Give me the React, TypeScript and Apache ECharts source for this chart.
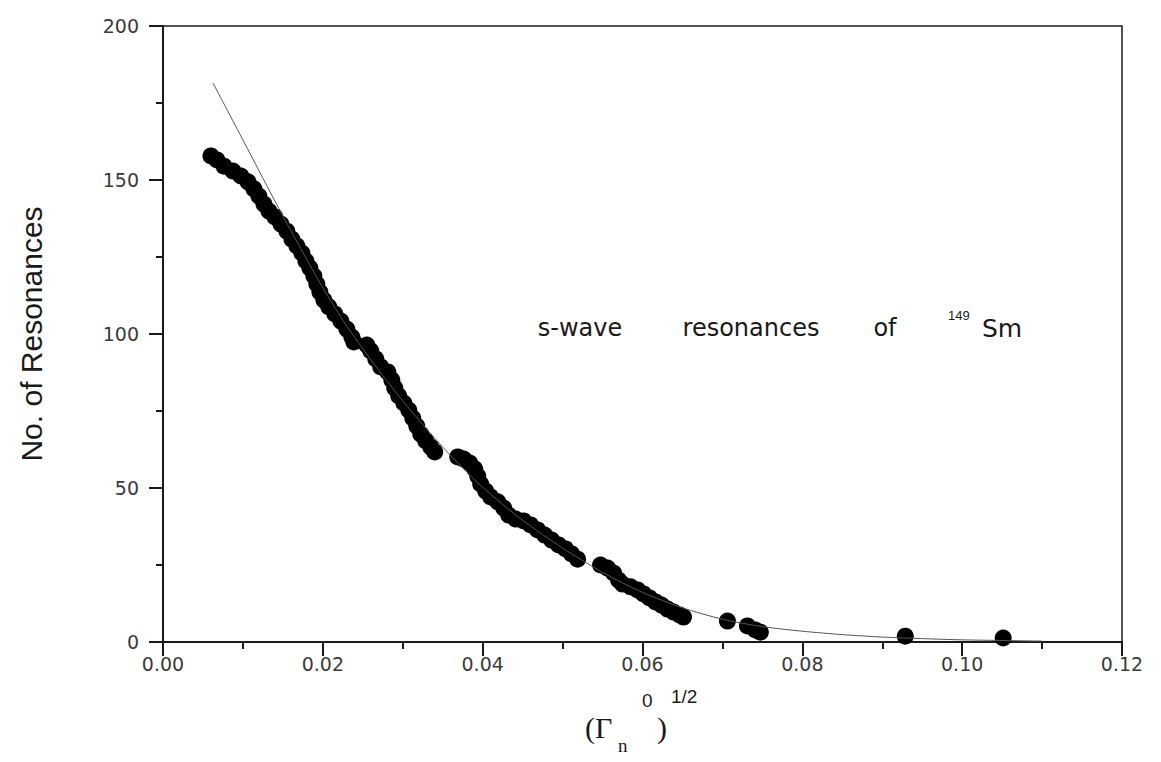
import React, { useEffect, useRef } from "react";
import * as echarts from "echarts";

// Measured resonances: (Γn0)^1/2 values and cumulative counts
const resX = [
  0.006, 0.00675, 0.00763, 0.00875, 0.00975, 0.01063, 0.01138, 0.012, 0.01263, 0.01325,
  0.014, 0.01475, 0.0155, 0.01613, 0.01675, 0.01738, 0.01788, 0.01838, 0.01888, 0.01925,
  0.01963, 0.02013, 0.02075, 0.0215, 0.02225, 0.023, 0.02363, 0.02388,
  0.0255, 0.026, 0.02663, 0.02725, 0.02813, 0.02863, 0.029, 0.0295, 0.03013, 0.03075,
  0.03125, 0.03175, 0.03225, 0.03288, 0.0335, 0.034,
  0.03688, 0.03763, 0.03838, 0.039, 0.03938, 0.03975, 0.04038, 0.041, 0.04188, 0.04263,
  0.04325, 0.04413, 0.04513, 0.046, 0.04688, 0.04775, 0.04863, 0.0495, 0.05038, 0.05113,
  0.05188,
  0.05475, 0.05563, 0.05638, 0.057, 0.0575, 0.0585, 0.05938, 0.06013, 0.06088, 0.06163,
  0.06238, 0.06313, 0.06388, 0.06463, 0.06513,
  0.07063, 0.07313, 0.07413, 0.07475, 0.09288, 0.10513,
];
const resY = [
  157.8, 156.5, 154.5, 152.9, 151.3, 149.4, 147.1, 144.8, 142.2, 139.9,
  138.0, 135.7, 133.4, 130.8, 128.6, 126.3, 123.7, 121.4, 118.8, 116.2,
  113.6, 111.0, 108.8, 106.5, 104.2, 101.6, 99.0, 97.4,
  96.4, 94.5, 91.9, 89.3, 87.7, 85.1, 82.5, 79.9, 77.6, 75.3,
  72.7, 70.1, 67.5, 65.3, 63.3, 61.7,
  60.1, 59.4, 58.1, 56.2, 53.9, 51.3, 49.0, 47.1, 45.5, 43.5,
  41.2, 39.9, 39.3, 38.0, 36.4, 34.7, 33.1, 31.5, 30.2, 28.6,
  26.9,
  25.0, 24.0, 22.4, 20.1, 18.8, 17.9, 16.9, 15.6, 14.3, 13.0,
  12.0, 10.7, 9.7, 8.8, 8.1,
  6.8, 5.2, 3.9, 3.2, 1.9, 1.3,
];

// Fitted curve
const fitX = [0.00625, 0.01, 0.0125, 0.015, 0.0175, 0.02, 0.0225, 0.025, 0.0275, 0.03,
  0.0325, 0.035, 0.0375, 0.04, 0.045, 0.05, 0.055, 0.06, 0.065, 0.07,
  0.075, 0.08, 0.085, 0.09, 0.095, 0.1, 0.11];
const fitY = [181.5, 163, 150.6, 138.3, 126.5, 115, 104.5, 95.2, 86.5, 78.3,
  70.6, 63.3, 56.5, 50.2, 39.5, 30.5, 22.6, 16.1, 11.1, 7.4,
  5.0, 3.5, 2.4, 1.6, 1.1, 0.7, 0.3];

const xTicks = ["0.00", "0.02", "0.04", "0.06", "0.08", "0.10", "0.12"];
const yTicks = ["0", "50", "100", "150", "200"];

const yTitle = "No. of Resonances";
const noteWords = ["s-wave", "resonances", "of"];
const noteIso = "149";
const noteElem = "Sm";

export default function App() {
  const ref = useRef<HTMLDivElement>(null);
  useEffect(() => {
    if (!ref.current) return;
    const chart = echarts.init(ref.current, null, { renderer: "svg" });
    const sans = "'Liberation Sans', Arial, sans-serif";
    const wide = "'DejaVu Sans', sans-serif";
    const serif = "'Liberation Serif', 'Times New Roman', serif";
    const ink = "#1a1a1a";
    const lbl = "#3a3a3a";
    const wordCx = [572, 743, 877];
    chart.setOption({
      animation: false,
      backgroundColor: "#ffffff",
      grid: {
        left: 154,
        top: 18,
        width: 960,
        height: 616,
        show: true,
        borderColor: ink,
        borderWidth: 1.5,
        backgroundColor: "transparent",
      },
      xAxis: {
        type: "value",
        min: 0,
        max: 0.12,
        interval: 0.02,
        axisLine: { show: true, onZero: false, lineStyle: { color: ink, width: 2 } },
        axisTick: { show: true, inside: false, length: 14, lineStyle: { color: ink, width: 2 } },
        minorTick: { show: true, splitNumber: 2, length: 7, lineStyle: { color: ink, width: 2 } },
        splitLine: { show: false },
        axisLabel: {
          margin: 12,
          fontFamily: wide,
          fontSize: 19,
          color: lbl,
          formatter: (v: number) => xTicks[Math.round(v / 0.02)] ?? "",
        },
      },
      yAxis: {
        type: "value",
        min: 0,
        max: 200,
        interval: 50,
        name: yTitle,
        nameLocation: "middle",
        nameGap: 117,
        nameRotate: 90,
        nameTextStyle: { fontFamily: sans, fontSize: 30, color: ink },
        axisLine: { show: true, onZero: false, lineStyle: { color: ink, width: 2 } },
        axisTick: { show: true, inside: false, length: 14, lineStyle: { color: ink, width: 2 } },
        minorTick: { show: true, splitNumber: 2, length: 7, lineStyle: { color: ink, width: 2 } },
        splitLine: { show: false },
        axisLabel: {
          margin: 24,
          fontFamily: wide,
          fontSize: 19,
          color: lbl,
          formatter: (v: number) => yTicks[Math.round(v / 50)] ?? "",
        },
      },
      series: [
        {
          type: "line",
          data: fitX.map((x, i) => [x, fitY[i]]),
          smooth: 0.25,
          showSymbol: false,
          lineStyle: { color: "#555", width: 1 },
          z: 3,
        },
        {
          type: "scatter",
          data: resX.map((x, i) => [x, resY[i]]),
          symbol: "circle",
          symbolSize: 17,
          itemStyle: { color: "#000", opacity: 1 },
          z: 2,
        },
      ],
      graphic: [
        ...noteWords.map((w, i) => ({
          type: "text",
          x: wordCx[i],
          y: 320,
          style: {
            text: w,
            font: `24px ${wide}`,
            fill: ink,
            textAlign: "center",
            textVerticalAlign: "middle",
          },
        })),
        {
          type: "text",
          x: 940,
          y: 307,
          style: { text: noteIso, font: `13px ${sans}`, fill: ink, textAlign: "left", textVerticalAlign: "middle" },
        },
        {
          type: "text",
          x: 994,
          y: 320,
          style: { text: noteElem, font: `25px ${wide}`, fill: ink, textAlign: "center", textVerticalAlign: "middle" },
        },
        {
          type: "text",
          x: 577,
          y: 719,
          style: { text: "(Γ", font: `30px ${serif}`, fill: ink, textAlign: "left", textVerticalAlign: "middle" },
        },
        {
          type: "text",
          x: 610,
          y: 737,
          style: { text: "n", font: `19px ${serif}`, fill: ink, textAlign: "left", textVerticalAlign: "middle" },
        },
        {
          type: "text",
          x: 634,
          y: 692,
          style: { text: "0", font: `19px ${sans}`, fill: ink, textAlign: "left", textVerticalAlign: "middle" },
        },
        {
          type: "text",
          x: 649,
          y: 719,
          style: { text: ")", font: `30px ${serif}`, fill: ink, textAlign: "left", textVerticalAlign: "middle" },
        },
        {
          type: "text",
          x: 663,
          y: 688,
          style: { text: "1/2", font: `19px ${sans}`, fill: ink, textAlign: "left", textVerticalAlign: "middle" },
        },
      ],
    });
    return () => chart.dispose();
  }, []);
  return <div ref={ref} style={{ width: 1145, height: 746 }} />;
}
